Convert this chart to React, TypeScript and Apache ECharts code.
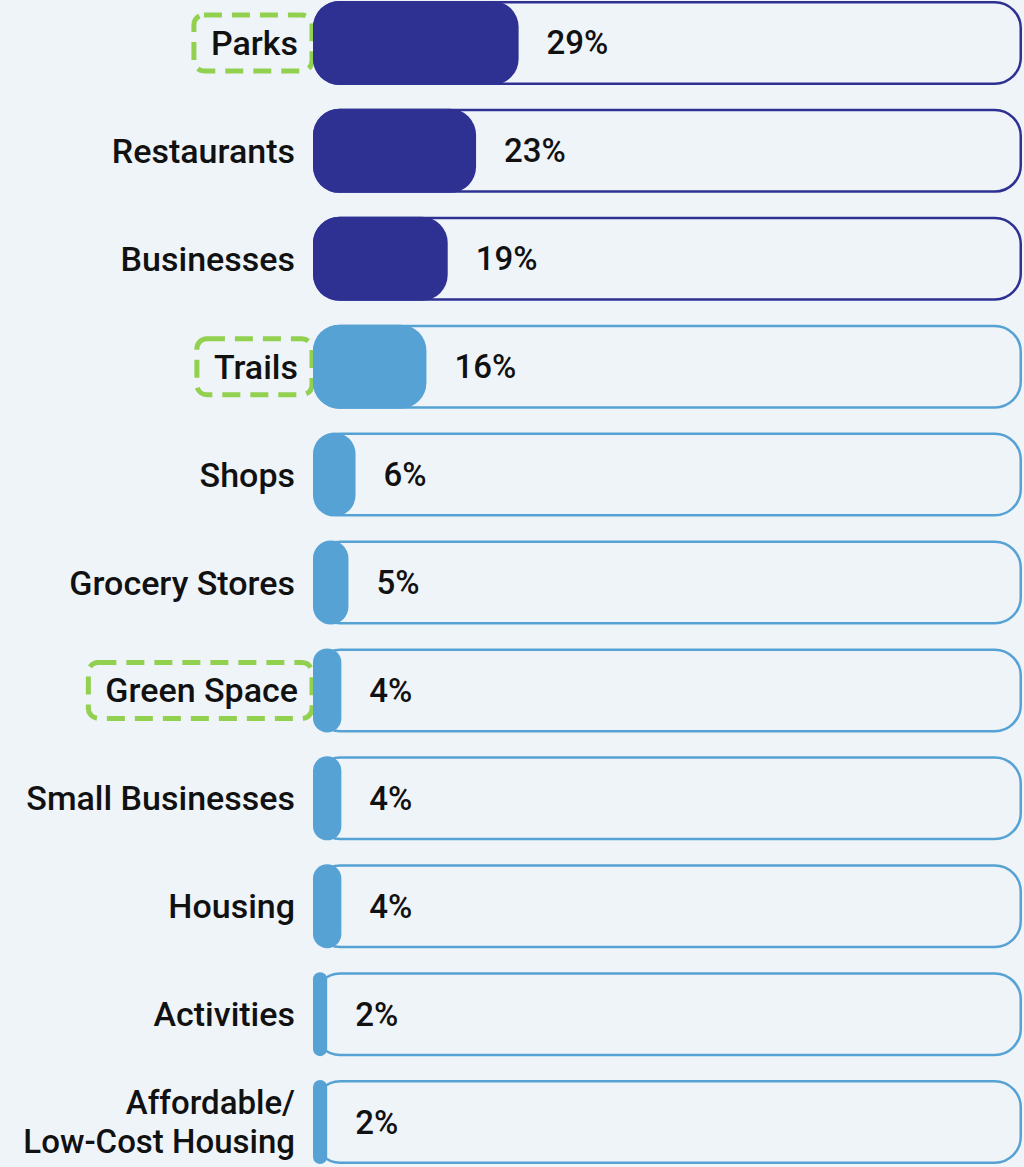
import React, { useEffect, useRef } from "react";
import * as echarts from "echarts";

const categories = [
  "Parks",
  "Restaurants",
  "Businesses",
  "Trails",
  "Shops",
  "Grocery Stores",
  "Green Space",
  "Small Businesses",
  "Housing",
  "Activities",
  "Affordable/\nLow-Cost Housing",
];
const values = [29, 23, 19, 16, 6, 5, 4, 4, 4, 2, 2];
const highlighted = ["Parks", "Trails", "Green Space"];
const darkRows = ["Parks", "Restaurants", "Businesses"];
const trackMax = 100;

const DARK = "#2E3192";
const LIGHT = "#56A2D4";
const BG = "#EFF4F9";
const FONT = "Roboto";

export default function App() {
  const ref = useRef<HTMLDivElement>(null);
  useEffect(() => {
    document.body.style.margin = "0";
    document.body.style.background = BG;
    document.body.style.overflow = "hidden";
    const chart = echarts.init(ref.current!, undefined, { renderer: "svg" });
    const colorOf = (c: string) => (darkRows.includes(c) ? DARK : LIGHT);
    chart.setOption({
      animation: false,
      backgroundColor: BG,
      grid: { left: 313, right: 2, top: 0, bottom: 0, containLabel: false },
      xAxis: { type: "value", min: 0, max: trackMax, show: false },
      yAxis: {
        type: "category",
        inverse: true,
        data: categories,
        axisLine: { show: false },
        axisTick: { show: false },
        splitLine: { show: false },
        axisLabel: {
          margin: 1,
          formatter: (v: string) => {
            const lines = v.split("\n");
            const key = highlighted.includes(v)
              ? "hl"
              : lines.length > 1
              ? "m"
              : "n";
            return lines.map((l) => `{${key}|${l}}`).join("\n");
          },
          rich: {
            n: {
              fontFamily: FONT,
              fontWeight: 500,
              fontSize: 34,
              color: "#111",
              lineHeight: 40,
              padding: [0, 17, 0, 0],
            },
            m: {
              fontFamily: FONT,
              fontWeight: 500,
              fontSize: 33,
              color: "#111",
              lineHeight: 39,
              padding: [0, 17, 0, 0],
            },
            hl: {
              fontFamily: FONT,
              fontWeight: 500,
              fontSize: 34,
              color: "#111",
              lineHeight: 38,
              padding: [11, 14, 11, 17],
              borderColor: "#92D050",
              borderWidth: 5,
              borderType: [18, 10],
              borderRadius: 10,
            },
          },
        },
      },
      series: [
        {
          type: "bar",
          barWidth: 84,
          barGap: "-100%",
          silent: true,
          data: categories.map((c) => ({
            value: trackMax,
            itemStyle: {
              color: BG,
              borderColor: colorOf(c),
              borderWidth: 2.5,
              borderRadius: 26,
            },
          })),
          z: 1,
        },
        {
          type: "bar",
          barWidth: 84,
          barGap: "-100%",
          data: categories.map((c, i) => ({
            value: values[i],
            itemStyle: { color: colorOf(c), borderRadius: 26 },
          })),
          label: {
            show: true,
            position: "right",
            distance: 28,
            formatter: "{c}%",
            fontFamily: FONT,
            fontWeight: 500,
            fontSize: 33,
            color: "#111",
          },
          z: 2,
        },
      ],
    });
    return () => chart.dispose();
  }, []);
  return (
    <div
      ref={ref}
      style={{ width: 1024, height: 1187, marginTop: -11 }}
    />
  );
}
